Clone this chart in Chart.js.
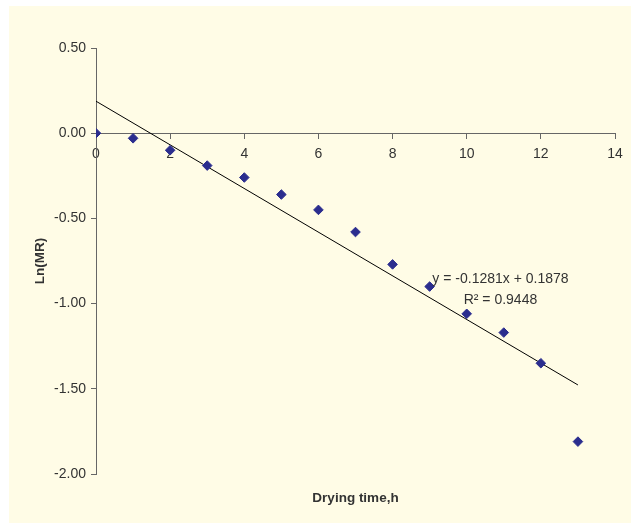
<!DOCTYPE html>
<html>
<head>
<meta charset="utf-8">
<script src="https://cdn.jsdelivr.net/npm/chart.js@4"></script>
<style>
    html, body { margin: 0; padding: 0; background: #ffffff; }
    #panel { position: absolute; left: 9px; top: 6px; width: 622px; height: 517px; background: #fffce6; }
    #myChart { position: absolute; left: 0; top: 0; }
</style>
</head>
<body>
<div id="panel"></div>
<canvas id="myChart" width="631" height="523"></canvas>
<script>
// measured points, ln(MR) vs drying time
const hours = [0, 1, 2, 3, 4, 5, 6, 7, 8, 9, 10, 11, 12, 13];
const lnMR = [0.00, -0.03, -0.10, -0.19, -0.26, -0.36, -0.45, -0.58, -0.77, -0.90, -1.06, -1.17, -1.35, -1.81];

// linear trendline end points (y = -0.1281x + 0.1878)
const trendX = [0, 13];
const trendY = [0.1878, -1.4775];
const equationLines = ["y = -0.1281x + 0.1878", "R\u00b2 = 0.9448"];

const textColor = "#333333";
const axisColor = "#666666";
const fontFamily = "'Liberation Sans', Arial, sans-serif";

const equationLabel = {
    id: "equationLabel",
    afterDatasetsDraw(chart) {
        const ctx = chart.ctx;
        const x = chart.scales.x.getPixelForValue(10.91);
        ctx.save();
        ctx.font = "14px " + fontFamily;
        ctx.fillStyle = textColor;
        ctx.textAlign = "center";
        ctx.textBaseline = "middle";
        ctx.fillText(equationLines[0], x, chart.scales.y.getPixelForValue(-0.859));
        ctx.fillText(equationLines[1], x, chart.scales.y.getPixelForValue(-0.982));
        ctx.restore();
    }
};

const points = hours.map((h, i) => ({ x: h, y: lnMR[i] }));
const trend = trendX.map((h, i) => ({ x: h, y: trendY[i] }));

new Chart(document.getElementById("myChart"), {
    type: "scatter",
    data: {
        datasets: [{
            label: "Ln(MR)",
            data: points,
            pointStyle: "rectRot",
            pointRadius: 4.8,
            borderWidth: 1,
            backgroundColor: "#2b2d8e",
            borderColor: "#2b2d8e"
        }, {
            label: "Linear",
            data: trend,
            showLine: true,
            pointRadius: 0,
            borderWidth: 1,
            borderColor: "#000000"
        }]
    },
    options: {
        responsive: false,
        animation: false,
        layout: { padding: { left: 0, right: 16, top: 48, bottom: 16.8 } },
        plugins: {
            legend: { display: false },
            tooltip: { enabled: false },
            title: {
                display: true,
                position: "bottom",
                fullSize: false,
                text: "Drying time,h",
                color: textColor,
                font: { family: fontFamily, size: 13.5, weight: "bold", lineHeight: 1.2 },
                padding: { top: 16, bottom: 0 }
            }
        },
        scales: {
            x: {
                type: "linear",
                position: { y: 0 },
                min: 0,
                max: 14,
                ticks: { stepSize: 2, color: textColor, padding: 8, font: { family: fontFamily, size: 14 } },
                grid: { drawOnChartArea: false, tickLength: 5, color: axisColor },
                border: { color: axisColor }
            },
            y: {
                type: "linear",
                position: "left",
                min: -2,
                max: 0.5,
                afterFit(scale) { scale.width = 96; },
                ticks: {
                    stepSize: 0.5,
                    color: textColor,
                    padding: 5,
                    font: { family: fontFamily, size: 14 },
                    callback: v => (Math.abs(v) < 1e-9 ? 0 : v).toFixed(2)
                },
                grid: { drawOnChartArea: false, tickLength: 5, color: axisColor },
                border: { color: axisColor },
                title: {
                    display: true,
                    text: "Ln(MR)",
                    color: textColor,
                    font: { family: fontFamily, size: 13.5, weight: "bold", lineHeight: 1.2 },
                    padding: { top: 32.4, bottom: 0 }
                }
            }
        }
    },
    plugins: [equationLabel]
});
</script>
</body>
</html>
